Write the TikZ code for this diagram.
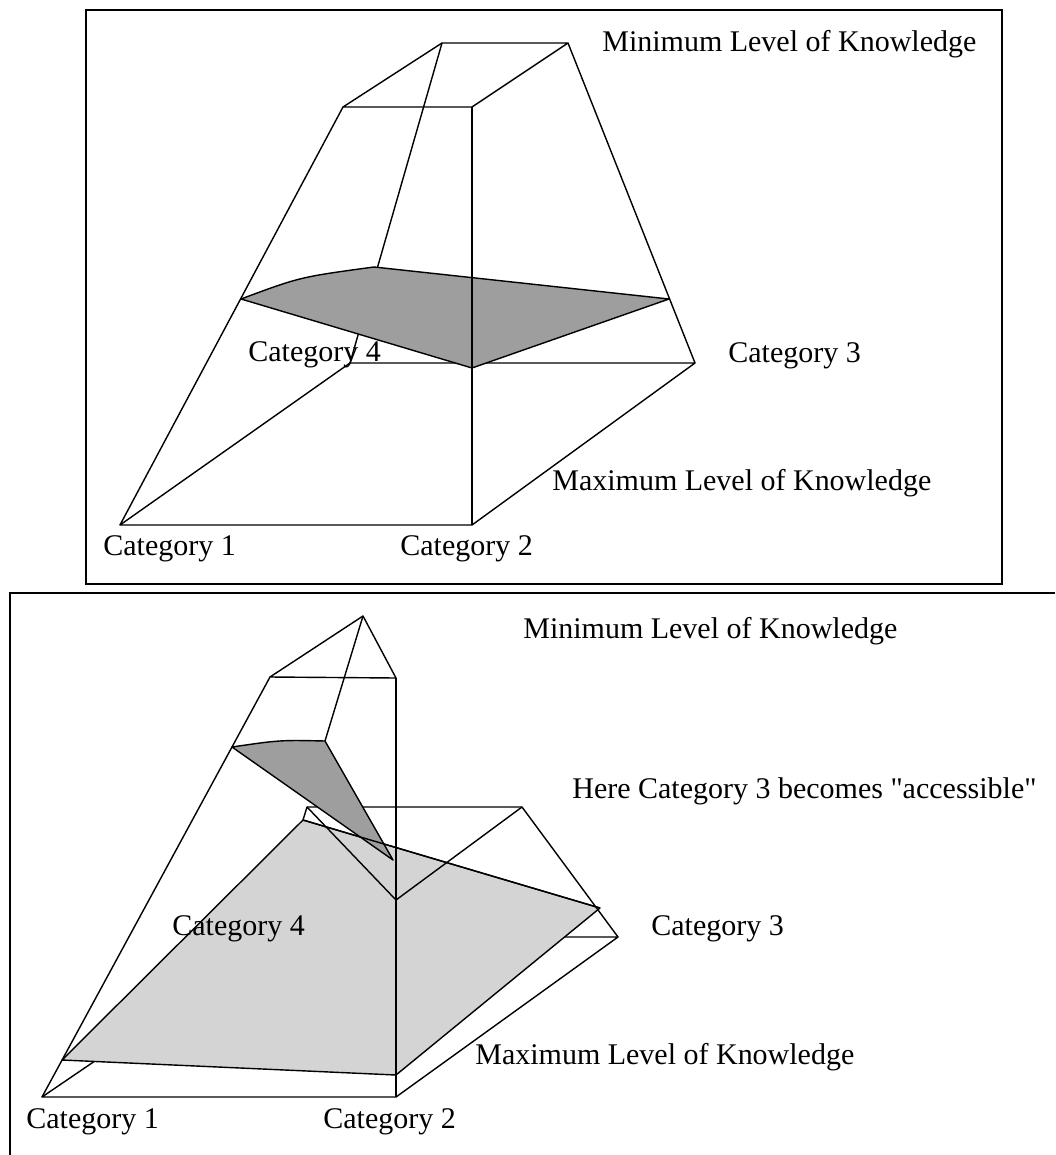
\documentclass[tikz,border=0pt]{standalone}
\usepackage{fontspec}
\setmainfont{Liberation Serif}[Ligatures=TeXOff]

\begin{document}
\begin{tikzpicture}[
    x=0.02cm, y=-0.02cm,
    font=\fontsize{17.07}{20}\selectfont,
    every node/.style={anchor=base west, inner sep=0pt},
    rim/.style={line width=0.8pt, line join=round},
    border/.style={line width=1.2pt},
]

% Colors
\definecolor{gridshade}{gray}{0.62}
\definecolor{dotshade}{gray}{0.83}

\useasboundingbox (0,0) rectangle (1055,1155);

% ---------- Upper panel ----------
\draw[border] (86,10) rectangle (1002,584);

% Frustum corners
\coordinate (tbl) at (442,43);
\coordinate (tbr) at (568,43);
\coordinate (tfl) at (343,107);
\coordinate (tfr) at (472,107);
\coordinate (c1) at (120,525);
\coordinate (c2) at (472,525);
\coordinate (c3) at (695,363);
\coordinate (c4) at (350,363);

% Shaded level
\coordinate (sl) at (241,299);
\coordinate (sb) at (374,267);
\coordinate (sr) at (669,299);
\coordinate (sf) at (472,368);

\draw[rim] (tbl) -- (tbr) -- (tfr) -- (tfl) -- cycle;
\draw[rim] (c1) -- (c2) -- (c3) -- (c4) -- cycle;
\foreach \a/\b in {tfl/c1, tbl/c4, tbr/c3}
    \draw[rim] (\a) -- (\b);
\filldraw[rim, fill=gridshade] (sl) .. controls (300,277) .. (sb) -- (sr) -- (sf) -- cycle;
\draw[rim] (tfr) -- (c2);

% Labels
\node (minA) at (602,52) {Minimum Level of Knowledge};
\node (catA4) at (248,361) {Category 4};
\node (catA3) at (728,362) {Category 3};
\node (maxA) at (552,490) {Maximum Level of Knowledge};
\node (catA1) at (103,555) {Category 1};
\node (catA2) at (400,555) {Category 2};

% ---------- Lower panel ----------
\draw[border] (10,1155) -- (10,593) -- (1055,593);

% Upper part
\coordinate (p0) at (363,616);
\coordinate (p1) at (270,677);
\coordinate (p2) at (396,678);
\coordinate (q0) at (232,747);
\coordinate (q1) at (325,741);
\coordinate (q2) at (393,860);
% Bend
\coordinate (r2) at (396,900);
\coordinate (r3) at (522,807);
\coordinate (r4) at (307,807);
% Dotted level
\coordinate (l1) at (62,1060);
\coordinate (l2) at (396,1075);
\coordinate (l3) at (600,908);
\coordinate (l4) at (303,820);
% Base
\coordinate (d1) at (42,1097);
\coordinate (d2) at (396,1097);
\coordinate (d3) at (618,937);
\coordinate (d4) at (277,937);

\draw[rim] (d1) -- (d2) -- (d3) -- (d4) -- cycle;
\filldraw[rim, fill=dotshade] (l1) -- (l4) -- (l3) -- (l2) -- cycle;
\draw[rim] (p0) -- (p1) -- (p2) -- cycle;
\draw[rim] (p1) -- (d1);
\draw[rim] (p2) -- (d2);
\draw[rim] (p0) -- (q1);
\draw[rim] (r4) -- (r3) -- (d3);
\draw[rim] (l4) -- (r4) -- (r2) -- (r3);
\filldraw[rim, fill=gridshade] (q0) .. controls (280,740) .. (q1) -- (q2) -- cycle;
\draw[rim] (l4) -- (l3);

% Labels
\node (minB) at (523,638) {Minimum Level of Knowledge};
\node (hereB) at (572,798) {Here Category 3 becomes "accessible"};
\node (catB4) at (172,935) {Category 4};
\node (catB3) at (651,935) {Category 3};
\node (maxB) at (475,1064) {Maximum Level of Knowledge};
\node (catB1) at (26,1128) {Category 1};
\node (catB2) at (323,1128) {Category 2};

\end{tikzpicture}
\end{document}
